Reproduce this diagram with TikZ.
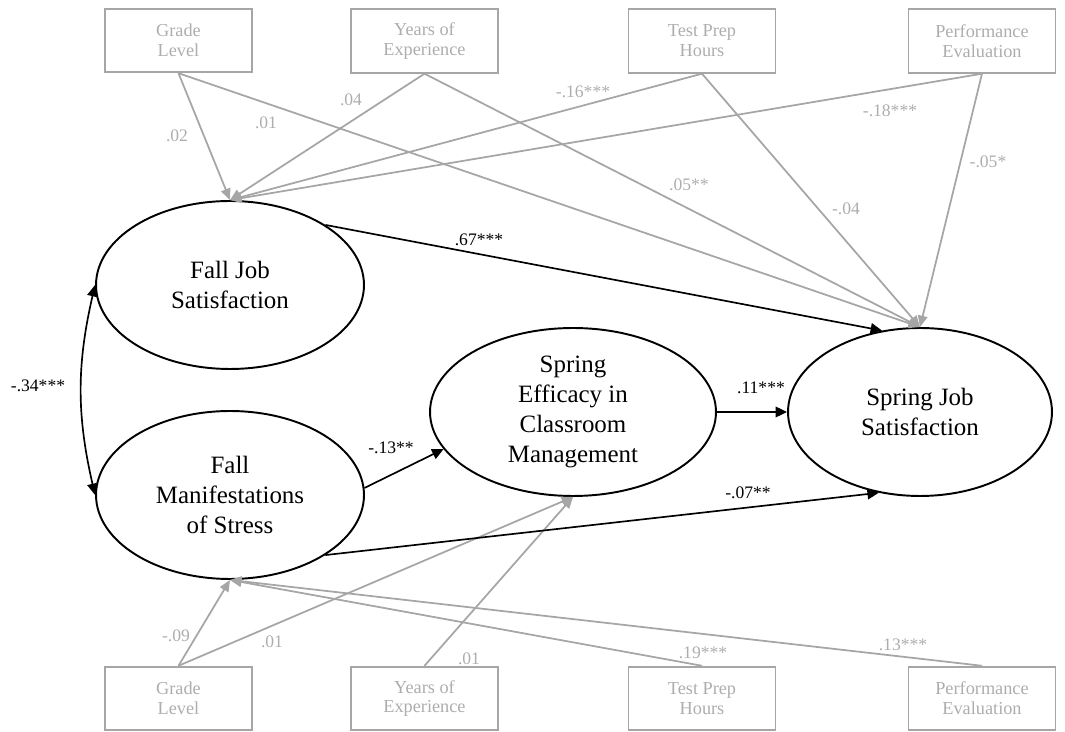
\documentclass[tikz,border=0pt]{standalone}
\usepackage{fontspec}
\setmainfont{Liberation Serif}
\usetikzlibrary{arrows.meta,shapes.geometric}

\definecolor{boxgray}{HTML}{A6A6A6}
\definecolor{labgray}{HTML}{ADADAD}

\tikzset{
	latent/.style={ellipse, draw, line width=1.1pt, inner sep=0pt, align=center, font=\fontsize{14.2}{17}\selectfont},
	observed/.style={rectangle, draw=boxgray, line width=1.1pt, minimum width=2.94cm, minimum height=1.27cm, inner sep=0pt, align=center, text=labgray, font=\fontsize{10.4}{11.3}\selectfont},
	blkarrow/.style={line width=0.95pt, -{Triangle[length=6.5pt,width=6pt]}},
	grayarrow/.style={draw=boxgray, line width=1pt, -{Triangle[length=6.5pt,width=5.5pt]}},
	blklab/.style={font=\fontsize{10}{12}\selectfont, inner sep=0pt},
	graylab/.style={blklab, text=labgray},
}

\begin{document}
\begin{tikzpicture}[x=0.02cm, y=-0.02cm]
			%%%%% START %%%%%
			\useasboundingbox (0,0) rectangle (1065,732);
			
			\node[latent, minimum width=5.36cm, minimum height=3.36cm] (fjs) at (230,285) {Fall Job\\Satisfaction};
			\node[latent, minimum width=5.36cm, minimum height=3.36cm] (fms) at (230,495) {Fall\\Manifestations\\of Stress};
			\node[latent, minimum width=5.72cm, minimum height=3.36cm] (sec) at (573,412) {Spring\\Efficacy in\\Classroom\\Management};
			\node[latent, minimum width=5.28cm, minimum height=3.36cm] (sjs) at (920,412) {Spring Job\\Satisfaction};
			
			% covariates, top row
			\node[observed] (gradeT) at (178.5,40.5) {Grade\\Level};
			\node[observed] (yearsT) at (424.5,41) {Years of\\Experience};
			\node[observed] (prepT) at (702,41) {Test Prep\\Hours};
			\node[observed] (evalT) at (982,41) {Performance\\Evaluation};
			
			% covariates, bottom row
			\node[observed] (gradeB) at (178.5,698.5) {Grade\\Level};
			\node[observed] (yearsB) at (424.5,698.5) {Years of\\Experience};
			\node[observed] (prepB) at (702,698.5) {Test Prep\\Hours};
			\node[observed] (evalB) at (982,698.5) {Performance\\Evaluation};
			
			\draw[grayarrow] (gradeT.south) -- (fjs.north);
			\draw[grayarrow] (yearsT.south) -- (fjs.north);
			\draw[grayarrow] (prepT.south) -- (fjs.north);
			\draw[grayarrow] (evalT.south) -- (fjs.north);
			\draw[grayarrow] (gradeT.south) -- (sjs.north);
			\draw[grayarrow] (yearsT.south) -- (sjs.north);
			\draw[grayarrow] (prepT.south) -- (sjs.north);
			\draw[grayarrow] (evalT.south) -- (sjs.north);
			
			\draw[grayarrow] (gradeB.north) -- (fms.south);
			\draw[grayarrow] (gradeB.north) -- (sec.south);
			\draw[grayarrow] (yearsB.north) -- (sec.south);
			\draw[grayarrow] (prepB.north) -- (fms.south);
			\draw[grayarrow] (evalB.north) -- (fms.south);
			
			\draw[blkarrow] (fjs.north east) -- (sjs.115);
			\draw[blkarrow] (fms.3) -- (sec.196);
			\draw[blkarrow] (sec.east) -- (sjs.west);
			\draw[blkarrow] (fms.south east) -- (sjs.243);
			\draw[line width=0.95pt, {Triangle[length=6.5pt,width=6pt]}-{Triangle[length=6.5pt,width=6pt]}] (fjs.west) to[bend right=13] (fms.west);
			
			% path coefficients
			\node[graylab] (cGlFjs) at (177,136) {.02};
			\node[graylab] (cGlSjs) at (266,123) {.01};
			\node[graylab] (cYeFjs) at (351,100) {.04};
			\node[graylab] (cTpFjs) at (583,92) {-.16***};
			\node[graylab] (cPeFjs) at (890,111) {-.18***};
			\node[graylab] (cYeSjs) at (689,185) {.05**};
			\node[graylab] (cTpSjs) at (846,209) {-.04};
			\node[graylab] (cPeSjs) at (988,162) {-.05*};
			
			\node[blklab] (cFjsSjs) at (479,240) {.67***};
			\node[blklab] (cCov) at (38,386) {-.34***};
			\node[blklab] (cFmsSec) at (391,448) {-.13**};
			\node[blklab] (cSecSjs) at (761,388) {.11***};
			\node[blklab] (cFmsSjs) at (748,493) {-.07**};
			
			\node[graylab] (cGlFms) at (176,636) {-.09};
			\node[graylab] (cGlSec) at (272,642) {.01};
			\node[graylab] (cYeSec) at (469,659) {.01};
			\node[graylab] (cTpFms) at (703,653) {.19***};
			\node[graylab] (cPeFms) at (903,645) {.13***};
			
			%%%%% END %%%%%
\end{tikzpicture}
\end{document}
